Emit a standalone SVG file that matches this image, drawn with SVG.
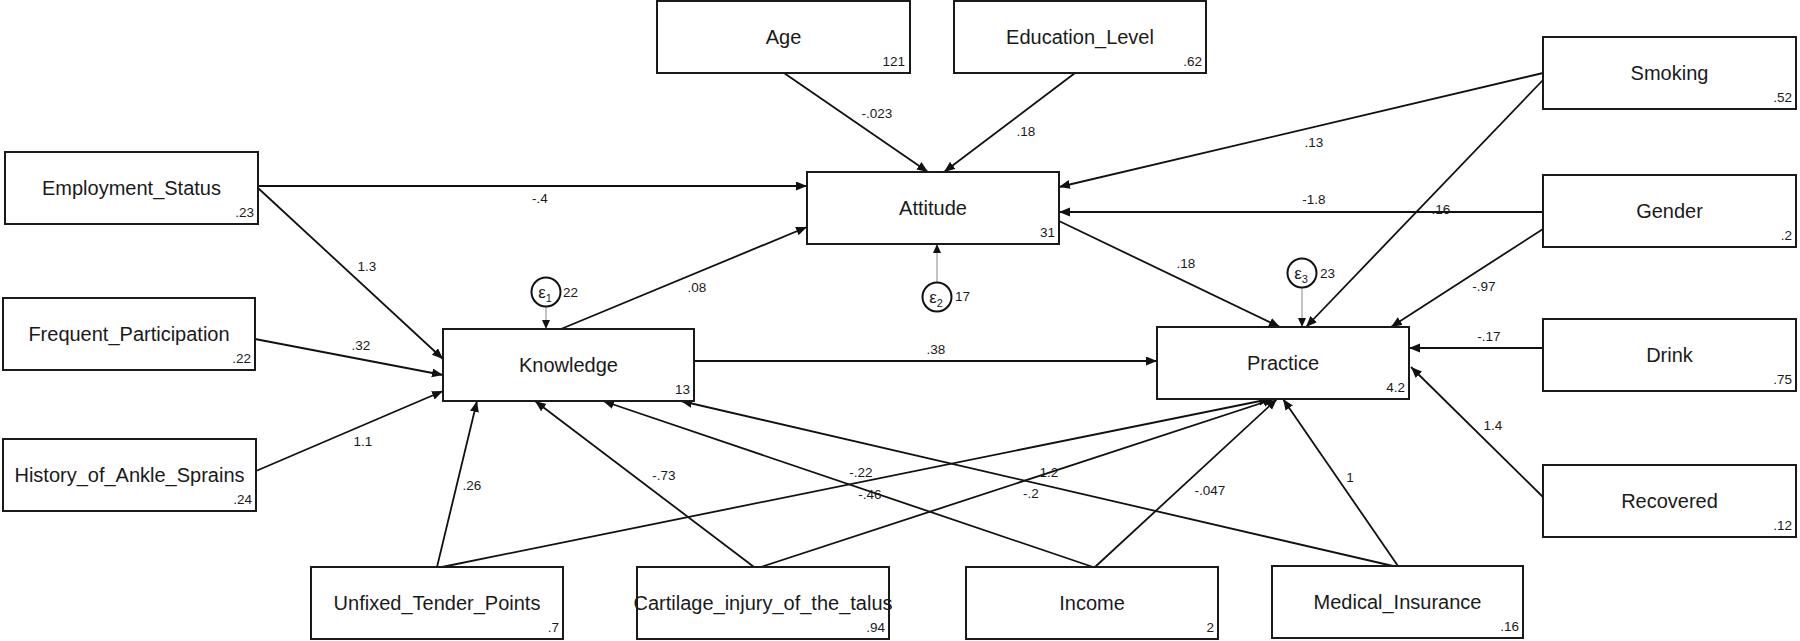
<svg xmlns="http://www.w3.org/2000/svg" width="1800" height="641" viewBox="0 0 1800 641">
<defs>
<style>
.box{fill:#fff;stroke:#1a1a1a;stroke-width:2}
.nl{font-family:"Liberation Sans",Arial,sans-serif;font-size:20px;fill:#1a1a1a;text-anchor:middle}
.nv{font-family:"Liberation Sans",Arial,sans-serif;font-size:13.5px;fill:#1a1a1a;text-anchor:end}
.el{font-family:"Liberation Sans",Arial,sans-serif;font-size:13.5px;fill:#1a1a1a;text-anchor:middle}
.ev{font-family:"Liberation Sans",Arial,sans-serif;font-size:13.5px;fill:#1a1a1a}
.eps{font-family:"Liberation Sans",Arial,sans-serif;font-size:17px;fill:#1a1a1a;text-anchor:middle}
.sub{font-size:11px}
.e{stroke:#111;stroke-width:1.8;fill:none;marker-end:url(#ah)}
.err{stroke:#888;stroke-width:1;fill:none;marker-end:url(#ahs)}
.circ{fill:#fff;stroke:#111;stroke-width:2}
</style>
<marker id="ah" markerUnits="userSpaceOnUse" markerWidth="12" markerHeight="10" refX="11" refY="4.5" orient="auto">
<path d="M0,0 L11,4.5 L0,9 Z" fill="#111"/>
</marker>
<marker id="ahs" markerUnits="userSpaceOnUse" markerWidth="10" markerHeight="8" refX="9" refY="4" orient="auto">
<path d="M0,0 L9,4 L0,8 Z" fill="#111"/>
</marker>
</defs>
<rect width="1800" height="641" fill="#fff"/>

<g id="connectors">
<line class="e" x1="784" y1="73" x2="928" y2="172"/>
<line class="e" x1="1075" y1="73" x2="944" y2="172"/>
<line class="e" x1="258" y1="186" x2="807" y2="186"/>
<line class="e" x1="258" y1="188" x2="443" y2="359"/>
<line class="e" x1="255" y1="339" x2="443" y2="375"/>
<line class="e" x1="256" y1="471" x2="443" y2="391"/>
<line class="e" x1="561" y1="329" x2="807" y2="227"/>
<line class="e" x1="694" y1="361" x2="1157" y2="361"/>
<line class="e" x1="1543" y1="73" x2="1059" y2="187"/>
<line class="e" x1="1543" y1="80" x2="1306" y2="327"/>
<line class="e" x1="1543" y1="212" x2="1059" y2="212"/>
<line class="e" x1="1543" y1="229" x2="1391" y2="327"/>
<line class="e" x1="1543" y1="348" x2="1409" y2="348"/>
<line class="e" x1="1543" y1="497" x2="1411" y2="367"/>
<line class="e" x1="1059" y1="221" x2="1280" y2="327"/>
<line class="e" x1="437" y1="567" x2="477" y2="401"/>
<line class="e" x1="442" y1="567" x2="1270" y2="399"/>
<line class="e" x1="754" y1="567" x2="535" y2="401"/>
<line class="e" x1="761" y1="567" x2="1274" y2="399"/>
<line class="e" x1="1093" y1="567" x2="603" y2="401"/>
<line class="e" x1="1095" y1="567" x2="1277" y2="399"/>
<line class="e" x1="1393" y1="566" x2="681" y2="401"/>
<line class="e" x1="1398" y1="566" x2="1283" y2="399"/>
<line class="err" x1="546" y1="306" x2="546" y2="329"/>
<line class="err" x1="937" y1="282" x2="937" y2="244"/>
<line class="err" x1="1302" y1="287" x2="1302" y2="327"/>
<g id="edge-labels">
<text class="el" x="877" y="118">-.023</text>
<text class="el" x="1026" y="136">.18</text>
<text class="el" x="540" y="203">-.4</text>
<text class="el" x="367" y="271">1.3</text>
<text class="el" x="361" y="350">.32</text>
<text class="el" x="363" y="446">1.1</text>
<text class="el" x="697" y="292">.08</text>
<text class="el" x="936" y="354">.38</text>
<text class="el" x="1314" y="147">.13</text>
<text class="el" x="1314" y="204">-1.8</text>
<text class="el" x="1441" y="214">.16</text>
<text class="el" x="1186" y="268">.18</text>
<text class="el" x="1484" y="291">-.97</text>
<text class="el" x="1489" y="341">-.17</text>
<text class="el" x="1493" y="430">1.4</text>
<text class="el" x="472" y="490">.26</text>
<text class="el" x="664" y="480">-.73</text>
<text class="el" x="861" y="477">-.22</text>
<text class="el" x="870" y="499">-.46</text>
<text class="el" x="1049" y="477">1.2</text>
<text class="el" x="1031" y="498">-.2</text>
<text class="el" x="1210" y="495">-.047</text>
<text class="el" x="1350" y="482">1</text>
</g>
</g>

<g id="e1"><circle class="circ" cx="546" cy="292" r="14.5"/><text class="eps" x="545" y="298">ε<tspan class="sub" dy="4">1</tspan></text><text class="ev" x="563" y="297">22</text></g>
<g id="e2"><circle class="circ" cx="937" cy="297" r="14.5"/><text class="eps" x="936" y="303">ε<tspan class="sub" dy="4">2</tspan></text><text class="ev" x="955" y="301">17</text></g>
<g id="e3"><circle class="circ" cx="1302" cy="273" r="14.5"/><text class="eps" x="1301" y="279">ε<tspan class="sub" dy="4">3</tspan></text><text class="ev" x="1320" y="278">23</text></g>

<g id="age"><rect class="box" x="657" y="1" width="253" height="72"/><text class="nl" x="783.5" y="44">Age</text><text class="nv" x="905" y="66">121</text></g>
<g id="education"><rect class="box" x="954" y="1" width="252" height="72"/><text class="nl" x="1080" y="44">Education_Level</text><text class="nv" x="1202" y="66">.62</text></g>
<g id="employment"><rect class="box" x="5" y="152" width="253" height="72"/><text class="nl" x="131.5" y="195">Employment_Status</text><text class="nv" x="254" y="217">.23</text></g>
<g id="frequent"><rect class="box" x="3" y="298" width="252" height="72"/><text class="nl" x="129" y="341">Frequent_Participation</text><text class="nv" x="251" y="363">.22</text></g>
<g id="history"><rect class="box" x="3" y="439" width="253" height="72"/><text class="nl" x="129.5" y="482">History_of_Ankle_Sprains</text><text class="nv" x="252" y="504">.24</text></g>
<g id="attitude"><rect class="box" x="807" y="172" width="252" height="72"/><text class="nl" x="933" y="215">Attitude</text><text class="nv" x="1055" y="237">31</text></g>
<g id="knowledge"><rect class="box" x="443" y="329" width="251" height="72"/><text class="nl" x="568.5" y="372">Knowledge</text><text class="nv" x="690" y="394">13</text></g>
<g id="practice"><rect class="box" x="1157" y="327" width="252" height="72"/><text class="nl" x="1283" y="370">Practice</text><text class="nv" x="1405" y="392">4.2</text></g>
<g id="smoking"><rect class="box" x="1543" y="37" width="253" height="72"/><text class="nl" x="1669.5" y="80">Smoking</text><text class="nv" x="1792" y="102">.52</text></g>
<g id="gender"><rect class="box" x="1543" y="175" width="253" height="72"/><text class="nl" x="1669.5" y="218">Gender</text><text class="nv" x="1792" y="240">.2</text></g>
<g id="drink"><rect class="box" x="1543" y="319" width="253" height="72"/><text class="nl" x="1669.5" y="362">Drink</text><text class="nv" x="1792" y="384">.75</text></g>
<g id="recovered"><rect class="box" x="1543" y="465" width="253" height="72"/><text class="nl" x="1669.5" y="508">Recovered</text><text class="nv" x="1792" y="530">.12</text></g>
<g id="unfixed"><rect class="box" x="311" y="567" width="252" height="72"/><text class="nl" x="437" y="610">Unfixed_Tender_Points</text><text class="nv" x="559" y="632">.7</text></g>
<g id="cartilage"><rect class="box" x="637" y="567" width="252" height="72"/><text class="nl" x="763" y="610">Cartilage_injury_of_the_talus</text><text class="nv" x="885" y="632">.94</text></g>
<g id="income"><rect class="box" x="966" y="567" width="252" height="72"/><text class="nl" x="1092" y="610">Income</text><text class="nv" x="1214" y="632">2</text></g>
<g id="medical"><rect class="box" x="1272" y="566" width="251" height="72"/><text class="nl" x="1397.5" y="609">Medical_Insurance</text><text class="nv" x="1519" y="631">.16</text></g>
</svg>
